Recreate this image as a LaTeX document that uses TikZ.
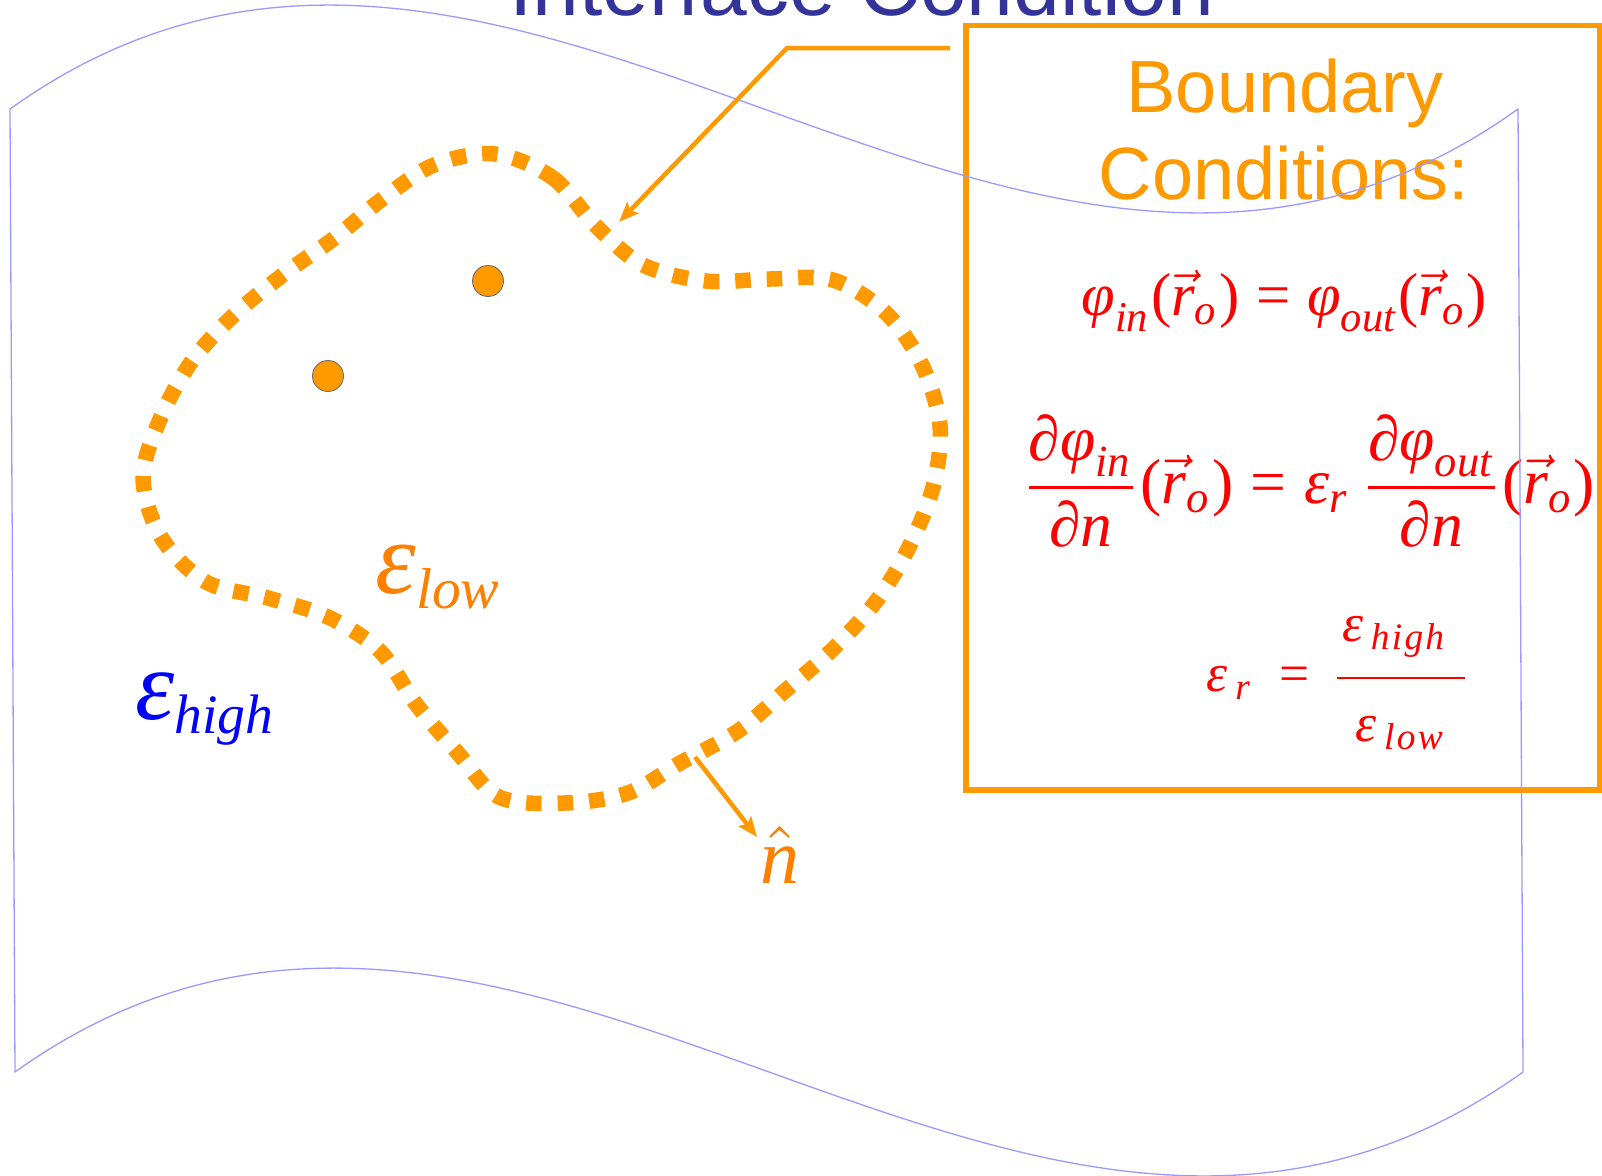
\documentclass[tikz,border=0pt]{standalone}
\usepackage{amsmath}
\usepackage[no-math]{fontspec}
\setmainfont{Liberation Sans}
\newfontfamily\tnr{Liberation Serif}
\newcommand{\ti}[1]{\text{\tnr\itshape #1}}
\newcommand{\tu}[1]{\text{\tnr #1}}
\usepackage{graphicx}
\usetikzlibrary{arrows.meta}
\definecolor{dashor}{HTML}{FF9900}
\definecolor{darkor}{HTML}{FF8000}
\definecolor{eqred}{HTML}{FF0000}
\definecolor{titleblue}{HTML}{333399}
\definecolor{flagblue}{HTML}{9999FF}
\definecolor{hiblue}{HTML}{0000FF}
\begin{document}
\begin{tikzpicture}[x=1pt,y=-1pt,
  every node/.style={inner sep=0pt,outer sep=0pt},
  flag/.style={draw=flagblue,line width=1.3pt,line join=round},
  bigtext/.style={font=\fontsize{74}{88}\selectfont,text=dashor,anchor=base},
  eqn/.style={text=eqred},
  iface/.style={dashor,line width=15.5pt,dash pattern=on 15.5pt off 16pt},
  dotc/.style={circle,minimum size=31pt,fill=dashor,draw=black!60,line width=0.8pt},
  callout/.style={draw=dashor,line width=4.5pt,-{Stealth[length=20pt,width=16pt,inset=4pt]}},
  bcbox/.style={draw=dashor,line width=5.5pt}]
\useasboundingbox (0,0) rectangle (1602,1175);

% interface curve
\draw[iface] plot[smooth cycle,tension=0.55] coordinates {
 (495,154) (553,178) (596,226) (643,265) (706,281) (770,279) (833,280)
 (886,313) (922,365) (940,426) (933,487) (909,547) (877,600) (833,649)
 (786,690) (738,731) (680,763) (628,793) (565,803) (499,797) (457,752)
 (416,704) (380,651) (328,617) (268,598) (206,582) (161,537) (143,477)
 (161,417) (192,361) (235,314) (284,274) (336,237) (381,200) (434,165)};

% charges
\node[dotc] (dot1) at (488,281) {};
\node[dotc] (dot2) at (328,376) {};

% boundary box
\draw[bcbox] (966,25.5) rectangle (1599.5,790);

% title
\node[font=\fontsize{84}{100}\selectfont,text=titleblue,anchor=base] (title) at (862,15) {Interface Condition};

\node[bigtext] (bnd1) at (1285,112) {Boundary};
\node[bigtext] (bnd2) at (1284,199) {Conditions:};

% equations
\node[eqn] (eqa) at (1284,301) {\resizebox{405pt}{!}{$\ti{φ}_{\ti{in}}\tu{(}\vec{\ti{r}}_{\ti{o}}\tu{)}\mathrel{\tu{=}}\ti{φ}_{\ti{out}}\tu{(}\vec{\ti{r}}_{\ti{o}}\tu{)}$}};
\node[eqn] (eqb) at (1308,481) {\resizebox{574pt}{!}{$\displaystyle\frac{\ti{∂φ}_{\ti{in}}}{\ti{∂n}}\tu{(}\vec{\ti{r}}_{\ti{o}}\tu{)}\mathrel{\tu{=}}\ti{ε}_{\ti{r}}\,\frac{\ti{∂φ}_{\ti{out}}}{\ti{∂n}}\tu{(}\vec{\ti{r}}_{\ti{o}}\tu{)}$}};
\node[eqn] (eqc) at (1339,683) {\resizebox{264pt}{!}{$\displaystyle\ti{ε}_{\,\ti{r}}\mkern4mu\mathrel{\tu{=}}\mkern2mu\frac{\mkern2mu\ti{ε}_{\,\ti{h\kern.06em i\kern.06em g\kern.06em h}}\rule[-0.55em]{0pt}{0pt}\mkern6mu}{\rule{0pt}{1.05em}\ti{ε}_{\,\ti{l\kern.06em o\kern.06em w}}}$}};

% flag outline
\draw[flag] (10,109) .. controls (513,-251) and (1015,469) .. (1518,109)
  -- (1523,1072) .. controls (1020,1432) and (518,712) .. (15,1072) -- cycle;

% labels
\node[text=hiblue] (ehigh) at (207,709) {\resizebox{143pt}{!}{$\ti{ε}_{\scalebox{0.8}{$\scriptstyle\ti{high}$}}$}};
\node[text=darkor] (elow) at (440,577) {\resizebox{129pt}{!}{$\ti{ε}_{\scalebox{0.8}{$\scriptstyle\ti{low}$}}$}};
\node[text=darkor] (nhat) at (780,855) {\resizebox{39pt}{!}{$\hat{\ti{n}}$}};

% callout
\coordinate (cstart) at (950,48);
\coordinate (cbend) at (787,48);
\coordinate (ctip) at (619,222);
\draw[callout,line join=miter] (cstart) -- (cbend) -- (ctip);

% normal arrow
\coordinate (nbase) at (695,757);
\coordinate (ntip) at (757,837);
\draw[callout] (nbase) -- (ntip);
\end{tikzpicture}
\end{document}
